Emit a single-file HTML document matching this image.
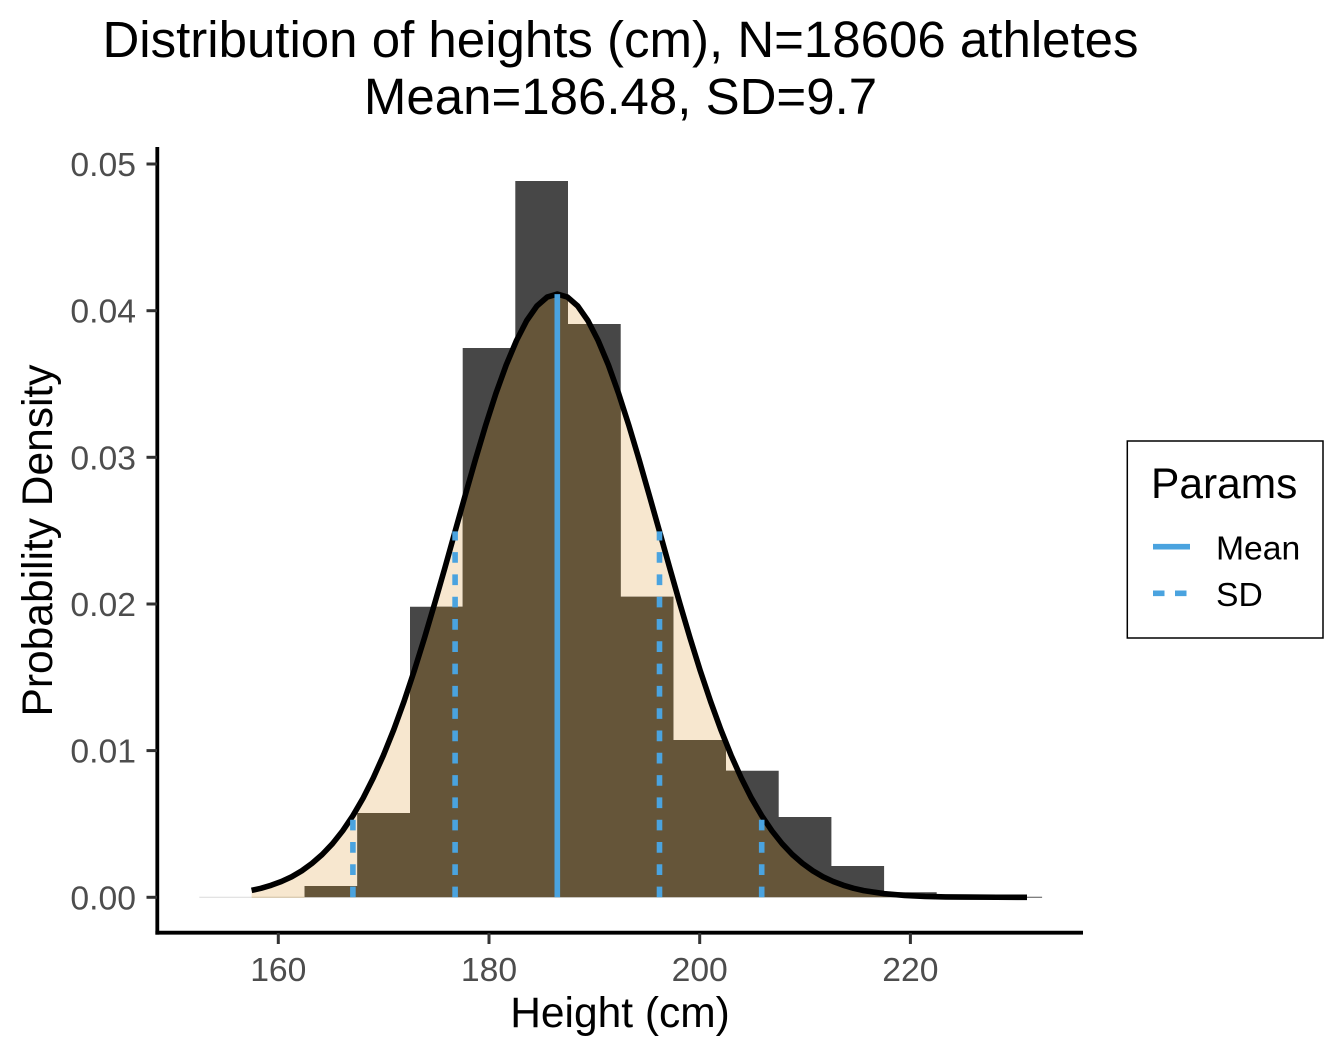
<!DOCTYPE html>
<html>
<head>
<meta charset="utf-8">
<style>
  html, body { margin: 0; padding: 0; background: #ffffff; }
  svg { display: block; }
  text { font-family: "Liberation Sans", Arial, sans-serif; }
</style>
</head>
<body>
<svg width="1344" height="1056" viewBox="0 0 1344 1056" xmlns="http://www.w3.org/2000/svg">
  <rect x="0" y="0" width="1344" height="1056" fill="#ffffff"/>
  <defs>
    <clipPath id="areaClip">
      <path d="M251.6,897.3 L251.6,890.4 L260.9,888.3 L271.1,885.3 L281.4,881.5 L291.6,876.8 L301.8,870.8 L312.0,863.4 L322.2,854.5 L332.5,843.7 L342.7,830.8 L352.9,815.7 L363.1,798.1 L373.3,777.9 L383.5,755.1 L393.8,729.6 L404.0,701.5 L414.2,670.9 L424.4,638.2 L434.6,603.7 L444.9,567.9 L455.1,531.4 L465.3,495.0 L475.5,459.3 L485.7,425.2 L495.9,393.5 L506.2,365.0 L516.5,340.5 L526.7,320.6 L536.9,306.0 L547.1,297.1 L557.3,294.1 L567.5,297.1 L577.7,306.0 L587.9,320.6 L598.1,340.5 L608.4,365.0 L618.6,393.5 L628.8,425.2 L639.0,459.3 L649.2,495.0 L659.5,531.4 L669.7,567.9 L679.9,603.7 L690.1,638.2 L700.3,670.9 L710.6,701.5 L720.8,729.6 L731.0,755.1 L741.2,777.9 L751.4,798.1 L761.7,815.7 L771.9,830.8 L782.1,843.7 L792.3,854.5 L802.5,863.4 L812.8,870.8 L823.0,876.8 L833.2,881.5 L843.4,885.3 L853.6,888.3 L863.8,890.6 L884.3,893.7 L904.7,895.4 L925.2,896.4 L945.6,896.9 L966.0,897.1 L996.7,897.24 L1027.0,897.3 Z"/>
    </clipPath>
  </defs>

  <!-- normal area (light) -->
  <path fill="#F7E7CF" d="M251.6,897.3 L251.6,890.4 L260.9,888.3 L271.1,885.3 L281.4,881.5 L291.6,876.8 L301.8,870.8 L312.0,863.4 L322.2,854.5 L332.5,843.7 L342.7,830.8 L352.9,815.7 L363.1,798.1 L373.3,777.9 L383.5,755.1 L393.8,729.6 L404.0,701.5 L414.2,670.9 L424.4,638.2 L434.6,603.7 L444.9,567.9 L455.1,531.4 L465.3,495.0 L475.5,459.3 L485.7,425.2 L495.9,393.5 L506.2,365.0 L516.5,340.5 L526.7,320.6 L536.9,306.0 L547.1,297.1 L557.3,294.1 L567.5,297.1 L577.7,306.0 L587.9,320.6 L598.1,340.5 L608.4,365.0 L618.6,393.5 L628.8,425.2 L639.0,459.3 L649.2,495.0 L659.5,531.4 L669.7,567.9 L679.9,603.7 L690.1,638.2 L700.3,670.9 L710.6,701.5 L720.8,729.6 L731.0,755.1 L741.2,777.9 L751.4,798.1 L761.7,815.7 L771.9,830.8 L782.1,843.7 L792.3,854.5 L802.5,863.4 L812.8,870.8 L823.0,876.8 L833.2,881.5 L843.4,885.3 L853.6,888.3 L863.8,890.6 L884.3,893.7 L904.7,895.4 L925.2,896.4 L945.6,896.9 L966.0,897.1 L996.7,897.24 L1027.0,897.3 Z"/>

  <!-- histogram -->
  <path fill="#474747" d="M304.6,897.3 V886 H357.3 V813 H410 V606.7 H462.7 V348 H515.3 V181 H568 V324 H620.7 V596.7 H673.4 V740 H726 V770.7 H778.7 V817 H831.4 V866 H884.1 V892.3 H936.7 V897.3 Z"/>
  <path fill="#655539" clip-path="url(#areaClip)" d="M304.6,897.3 V886 H357.3 V813 H410 V606.7 H462.7 V348 H515.3 V181 H568 V324 H620.7 V596.7 H673.4 V740 H726 V770.7 H778.7 V817 H831.4 V866 H884.1 V892.3 H936.7 V897.3 Z"/>

  <!-- zero-height bins baseline -->
  <line x1="199.3" y1="897.3" x2="251.6" y2="897.3" stroke="#DADADA" stroke-width="1"/>
  <line x1="251.6" y1="897.3" x2="304.6" y2="897.3" stroke="#CDBB9C" stroke-width="1"/>
  <line x1="936.7" y1="897.3" x2="1042.1" y2="897.3" stroke="#555555" stroke-width="1"/>

  <!-- normal curve -->
  <polyline fill="none" stroke="#000000" stroke-width="5.6" stroke-linejoin="round" points="251.6,890.4 260.9,888.3 271.1,885.3 281.4,881.5 291.6,876.8 301.8,870.8 312.0,863.4 322.2,854.5 332.5,843.7 342.7,830.8 352.9,815.7 363.1,798.1 373.3,777.9 383.5,755.1 393.8,729.6 404.0,701.5 414.2,670.9 424.4,638.2 434.6,603.7 444.9,567.9 455.1,531.4 465.3,495.0 475.5,459.3 485.7,425.2 495.9,393.5 506.2,365.0 516.5,340.5 526.7,320.6 536.9,306.0 547.1,297.1 557.3,294.1 567.5,297.1 577.7,306.0 587.9,320.6 598.1,340.5 608.4,365.0 618.6,393.5 628.8,425.2 639.0,459.3 649.2,495.0 659.5,531.4 669.7,567.9 679.9,603.7 690.1,638.2 700.3,670.9 710.6,701.5 720.8,729.6 731.0,755.1 741.2,777.9 751.4,798.1 761.7,815.7 771.9,830.8 782.1,843.7 792.3,854.5 802.5,863.4 812.8,870.8 823.0,876.8 833.2,881.5 843.4,885.3 853.6,888.3 863.8,890.6 884.3,893.7 904.7,895.4 925.2,896.4 945.6,896.9 966.0,897.1 996.7,897.24 1027.0,897.3"/>

  <!-- mean & SD lines -->
  <line x1="557.3" y1="897.3" x2="557.3" y2="294.1" stroke="#4AA3DF" stroke-width="5.6"/>
  <line x1="352.9" y1="897.3" x2="352.9" y2="815.7" stroke="#4AA3DF" stroke-width="5.6" stroke-dasharray="10.7 11.6"/>
  <line x1="761.7" y1="897.3" x2="761.7" y2="815.7" stroke="#4AA3DF" stroke-width="5.6" stroke-dasharray="10.7 11.6"/>
  <line x1="455.1" y1="897.3" x2="455.1" y2="531.4" stroke="#4AA3DF" stroke-width="5.6" stroke-dasharray="10.7 11.6"/>
  <line x1="659.5" y1="897.3" x2="659.5" y2="531.4" stroke="#4AA3DF" stroke-width="5.6" stroke-dasharray="10.7 11.6"/>

  <!-- axes -->
  <line x1="157.3" y1="147" x2="157.3" y2="934.6" stroke="#000000" stroke-width="3.8"/>
  <line x1="155.4" y1="932.7" x2="1083" y2="932.7" stroke="#000000" stroke-width="3.8"/>

  <!-- y ticks -->
  <g stroke="#333333" stroke-width="3">
    <line x1="146.5" y1="897.3" x2="157" y2="897.3"/>
    <line x1="146.5" y1="750.6" x2="157" y2="750.6"/>
    <line x1="146.5" y1="604" x2="157" y2="604"/>
    <line x1="146.5" y1="457.3" x2="157" y2="457.3"/>
    <line x1="146.5" y1="310.7" x2="157" y2="310.7"/>
    <line x1="146.5" y1="164" x2="157" y2="164"/>
  </g>
  <g fill="#4D4D4D" font-size="33.7" text-anchor="end">
    <text x="136" y="909.3">0.00</text>
    <text x="136" y="762.6">0.01</text>
    <text x="136" y="616">0.02</text>
    <text x="136" y="469.3">0.03</text>
    <text x="136" y="322.7">0.04</text>
    <text x="136" y="176">0.05</text>
  </g>

  <!-- x ticks -->
  <g stroke="#333333" stroke-width="3">
    <line x1="278.3" y1="933" x2="278.3" y2="944"/>
    <line x1="489" y1="933" x2="489" y2="944"/>
    <line x1="699.7" y1="933" x2="699.7" y2="944"/>
    <line x1="910.4" y1="933" x2="910.4" y2="944"/>
  </g>
  <g fill="#4D4D4D" font-size="33.7" text-anchor="middle">
    <text x="278.3" y="981">160</text>
    <text x="489" y="981">180</text>
    <text x="699.7" y="981">200</text>
    <text x="910.4" y="981">220</text>
  </g>

  <!-- axis titles -->
  <text x="620" y="1027" font-size="42.5" text-anchor="middle" fill="#000000">Height (cm)</text>
  <text transform="translate(52,540.5) rotate(-90)" font-size="42.5" text-anchor="middle" fill="#000000">Probability Density</text>

  <!-- title -->
  <text x="620.5" y="57" font-size="51" text-anchor="middle" fill="#000000">Distribution of heights (cm), N=18606 athletes</text>
  <text x="620.5" y="114" font-size="51" text-anchor="middle" fill="#000000">Mean=186.48, SD=9.7</text>

  <!-- legend -->
  <rect x="1127.3" y="441" width="195.7" height="197" fill="#ffffff" stroke="#000000" stroke-width="1.5"/>
  <text x="1151" y="498" font-size="42.5" fill="#000000">Params</text>
  <line x1="1153" y1="546.7" x2="1190" y2="546.7" stroke="#4AA3DF" stroke-width="5.6"/>
  <line x1="1153" y1="593.3" x2="1190" y2="593.3" stroke="#4AA3DF" stroke-width="5.6" stroke-dasharray="11.5 10.5"/>
  <text x="1216" y="559.5" font-size="33.7" fill="#000000">Mean</text>
  <text x="1216" y="606" font-size="33.7" fill="#000000">SD</text>
</svg>
</body>
</html>
